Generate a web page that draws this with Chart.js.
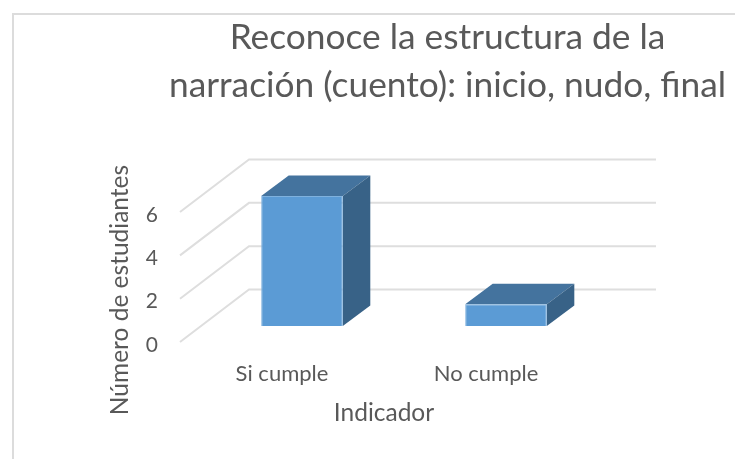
<!DOCTYPE html>
<html lang="es">

<head>
  <meta charset="UTF-8">
  <title>Reconoce la estructura de la narración</title>
  <style>
    html, body {
      margin: 0;
      padding: 0;
      background: #fff;
      overflow: hidden;
    }

    #frame {
      position: absolute;
      left: 12px;
      top: 13px;
      width: 723px;
      height: 446px;
      border-top: 2px solid #dcdcdc;
      border-left: 2px solid #dcdcdc;
      box-sizing: border-box;
    }

    #wrap {
      position: absolute;
      left: 0;
      top: 0;
      width: 735px;
      height: 459px;
    }
  </style>
  <script src="https://cdn.jsdelivr.net/npm/chart.js"></script>
</head>

<body>
  <div id="frame"></div>
  <div id="wrap"><canvas id="chart" width="735" height="459"></canvas></div>

  <script>
    const categories = ['Si cumple', 'No cumple'];
    const estudiantes = [6, 1];
    const titleLines = ['Reconoce la estructura de la', 'narración (cuento): inicio, nudo, final'];
    const yTitle = 'Número de estudiantes';
    const xTitle = 'Indicador';

    // 3D look: depth of the floor, depth of a bar, and where the bar sits on the floor
    const floor = { dx: 69, dy: 52.5 };
    const barDepth = { dx: 27.5, dy: 20.5 };
    const barShift = { dx: 20, dy: 16 };
    const textColor = '#595959';
    const fontName = 'Lato, Carlito, sans-serif';

    const pseudo3d = {
      id: 'pseudo3d',
      afterLayout(chart) {
        // title is centred a bit right of the canvas middle
        chart.titleBlock.left = 0;
        chart.titleBlock.right = 895;
        // axis title sits lower than the middle of the front plane
        const y = chart.scales.y;
        if (!y._titleMoved) {
          const drawTitle = y.drawTitle;
          y.drawTitle = function () {
            chart.ctx.save();
            chart.ctx.translate(0, 13);
            drawTitle.call(this);
            chart.ctx.restore();
          };
          y._titleMoved = true;
        }
      },
      beforeDatasetsDraw(chart) {
        const { ctx, chartArea, scales: { y } } = chart;
        ctx.save();
        ctx.strokeStyle = '#dedede';
        ctx.lineWidth = 2;
        y.ticks.forEach(t => {
          const py = y.getPixelForValue(t.value);
          ctx.beginPath();
          ctx.moveTo(chartArea.left, py);
          ctx.lineTo(chartArea.left + floor.dx, py - floor.dy);
          ctx.lineTo(656, py - floor.dy);
          ctx.stroke();
        });
        // top and side faces of the bars
        chart.getDatasetMeta(0).data.forEach(bar => {
          const { x, y: top, base, width } = bar.getProps(['x', 'y', 'base', 'width'], true);
          const l = x - width / 2 + barShift.dx;
          const r = x + width / 2 + barShift.dx;
          const t = top - barShift.dy;
          const b = base - barShift.dy;
          ctx.fillStyle = '#44739e';
          ctx.beginPath();
          ctx.moveTo(l, t);
          ctx.lineTo(l + barDepth.dx, t - barDepth.dy);
          ctx.lineTo(r + barDepth.dx, t - barDepth.dy);
          ctx.lineTo(r, t);
          ctx.closePath();
          ctx.fill();
          ctx.fillStyle = '#386287';
          ctx.beginPath();
          ctx.moveTo(r, t);
          ctx.lineTo(r + barDepth.dx, t - barDepth.dy);
          ctx.lineTo(r + barDepth.dx, b - barDepth.dy);
          ctx.lineTo(r, b);
          ctx.closePath();
          ctx.fill();
        });
        ctx.restore();
      },
      beforeDatasetDraw(chart) {
        chart.ctx.save();
        chart.ctx.translate(barShift.dx, -barShift.dy);
      },
      afterDatasetDraw(chart) {
        chart.ctx.restore();
      }
    };

    new Chart(document.getElementById('chart'), {
      type: 'bar',
      data: {
        labels: categories,
        datasets: [{
          label: yTitle,
          data: estudiantes,
          backgroundColor: '#5b9bd5',
          borderColor: '#7fb1de',
          borderWidth: 1,
          barPercentage: 0.4,
          categoryPercentage: 1,
          clip: false
        }]
      },
      options: {
        responsive: false,
        animation: false,
        layout: { padding: { left: 105, right: 147, top: 14, bottom: 31 } },
        plugins: {
          legend: { display: false },
          tooltip: { enabled: false },
          title: {
            display: true,
            text: titleLines,
            color: textColor,
            font: { family: fontName, size: 35.3, weight: 'normal', lineHeight: 1.36 },
            padding: { top: 0, bottom: 102 }
          }
        },
        scales: {
          x: {
            afterFit(scale) { scale.height = 86; },
            grid: { display: false, drawTicks: false },
            border: { display: false },
            ticks: { color: textColor, font: { family: fontName, size: 22 }, padding: 19 },
            title: { display: true, text: xTitle, color: textColor, font: { family: fontName, size: 24.5 }, padding: { top: 10, bottom: 0 } }
          },
          y: {
            min: 0,
            max: 6,
            afterFit(scale) { scale.width = 75; },
            grid: { display: false, drawTicks: false },
            border: { display: false },
            ticks: { stepSize: 2, color: textColor, font: { family: fontName, size: 21 }, padding: 22, labelOffset: 3 },
            title: { display: true, text: yTitle, color: textColor, font: { family: fontName, size: 24.5 }, padding: 0 }
          }
        }
      },
      plugins: [pseudo3d]
    });
  </script>
</body>

</html>
